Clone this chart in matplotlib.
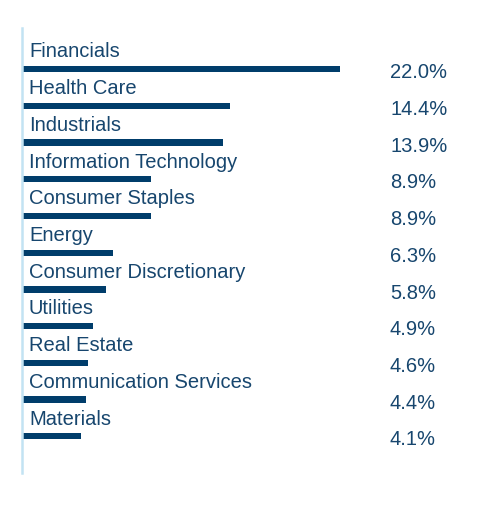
import matplotlib.pyplot as plt
import matplotlib.transforms as mtransforms

# sector weights
sectors = ['Financials', 'Health Care', 'Industrials', 'Information Technology',
           'Consumer Staples', 'Energy', 'Consumer Discretionary', 'Utilities',
           'Real Estate', 'Communication Services', 'Materials']
weights = [22.0, 14.4, 13.9, 8.9, 8.9, 6.3, 5.8, 4.9, 4.6, 4.4, 4.1]
value_labels = ['22.0%', '14.4%', '13.9%', '8.9%', '8.9%', '6.3%', '5.8%',
                '4.9%', '4.6%', '4.4%', '4.1%']

BAR_COLOR = '#003d6b'
TEXT_COLOR = '#17466e'
LINE_COLOR = '#c2e3f3'

W, H = 480, 528
fig = plt.figure(figsize=(W / 100, H / 100), dpi=100)
# axes placed in pixel terms: left line at x=22, from y=28 to y=473
ax = fig.add_axes([22 / W, 1 - 473 / H, 448 / W, 445 / H])

ypos = list(range(len(sectors)))
ax.barh(ypos, weights, height=0.17, color=BAR_COLOR, left=0)

ax.set_xlim(0, 448 / 14.45)
ax.set_ylim(11.0, -1.12)

for spine in ['top', 'right', 'bottom']:
    ax.spines[spine].set_visible(False)
ax.spines['left'].set_color(LINE_COLOR)
ax.spines['left'].set_linewidth(1.8)
ax.set_xticks([])
ax.set_yticks([])

trans_val = mtransforms.blended_transform_factory(ax.transAxes, ax.transData)
font = ['Liberation Sans', 'DejaVu Sans']
for y, name, lab in zip(ypos, sectors, value_labels):
    ax.annotate(name, xy=(0, y - 0.47), xytext=(5, 0),
                textcoords='offset points', va='center', ha='left',
                fontsize=14.5, color=TEXT_COLOR, family=font)
    ax.text((390 - 22) / 448, y + 0.1, lab, transform=trans_val,
            va='center', ha='left', fontsize=14.5, color=TEXT_COLOR,
            family=font)

fig.savefig('out.png', dpi=100)
